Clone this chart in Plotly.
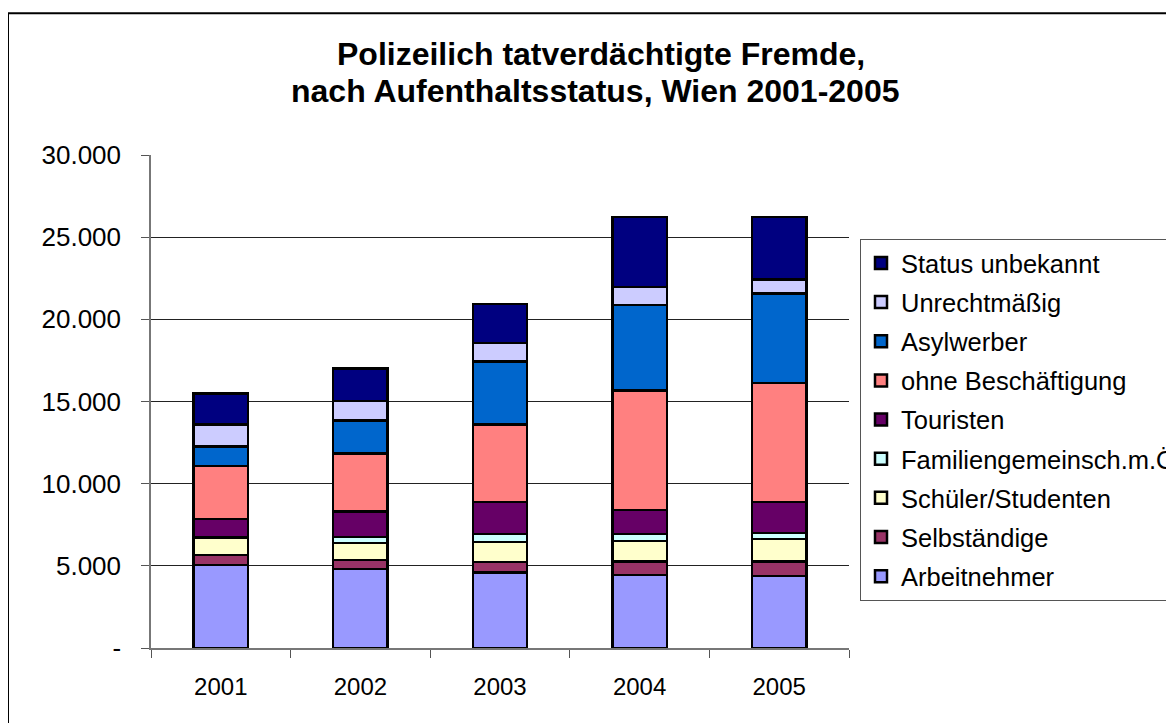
import plotly.graph_objects as go

years = ["2001", "2002", "2003", "2004", "2005"]

arbeitnehmer = [5060, 4800, 4590, 4450, 4390]
selbstaendige = [610, 565, 650, 810, 870]
schueler = [1025, 1015, 1215, 1240, 1360]
familien = [50, 365, 470, 445, 365]
touristen = [1090, 1555, 1945, 1460, 1900]
ohne_beschaeftigung = [3240, 3550, 4740, 7250, 7250]
asylwerber = [1175, 1980, 3830, 5225, 5430]
unrechtmaessig = [1360, 1215, 1130, 1095, 850]
status_unbekannt = [1880, 1970, 2350, 4250, 3800]

series_names = ["Arbeitnehmer", "Selbständige", "Schüler/Studenten", "Familiengemeinsch.m.Ö.",
                "Touristen", "ohne Beschäftigung", "Asylwerber", "Unrechtmäßig", "Status unbekannt"]
series_values = [arbeitnehmer, selbstaendige, schueler, familien, touristen,
                 ohne_beschaeftigung, asylwerber, unrechtmaessig, status_unbekannt]
series_colors = ["#9999FF", "#993366", "#FFFFCC", "#CCFFFF", "#660066",
                 "#FF8080", "#0066CC", "#CCCCFF", "#000080"]

y_tick_vals = [0, 5000, 10000, 15000, 20000, 25000, 30000]
y_tick_text = ["-", "5.000", "10.000", "15.000", "20.000", "25.000", "30.000"]

title_lines = ["Polizeilich tatverdächtigte Fremde,", "nach Aufenthaltsstatus, Wien 2001-2005"]

FONT = "Liberation Sans, Arial, sans-serif"
TITLE_FONT = "Liberation Sans Narrow, Arial Narrow, Liberation Sans"

n = len(series_names)
fig = go.Figure()
for i, (name, vals, col) in enumerate(zip(series_names, series_values, series_colors)):
    fig.add_trace(go.Bar(
        x=years, y=vals, name=name, legendgroup=name, legendrank=100 + (n - i),
        marker=dict(color=col, line=dict(color="black", width=2.5)),
        width=0.39,
    ))

# page body has an 8px margin: work in reference pixels, shifted by OFF
OFF = 8
W, H = 1174 - OFF, 723 - OFF
PL, PR, PT, PB = 151, 849, 154.5, 648.3   # plot area in reference pixels
L, T = PL - OFF, PT - OFF
R = W - (PR - OFF)
B = H - (PB - OFF)
pw = PR - PL
ph = PB - PT

def px_to_paper_x(px):
    return (px - PL) / pw

def px_to_paper_y(py):
    return (PB - py) / ph

fig.update_layout(
    width=W, height=H,
    barmode="stack",
    plot_bgcolor="white", paper_bgcolor="white",
    margin=dict(l=L, r=R, t=T, b=B, autoexpand=False),
    font=dict(family=FONT, color="black"),
    showlegend=True,
    legend=dict(
        x=px_to_paper_x(860), y=px_to_paper_y(238.5), xanchor="left", yanchor="top",
        traceorder="grouped", tracegroupgap=3,
        font=dict(size=25.5, family=FONT, color="black"),
        bgcolor="white", bordercolor="#555555", borderwidth=1,
        itemclick=False,
    ),
    xaxis=dict(
        type="category", tickson="boundaries",
        showline=True, linecolor="#777777", linewidth=1.5,
        ticks="outside", ticklen=8, tickcolor="#555555",
        showgrid=False, range=[-0.5, 4.5],
        tickfont=dict(size=24, family=FONT, color="black"),
        ticklabelstandoff=16,
    ),
    yaxis=dict(
        range=[0, 30000], tickmode="array", tickvals=y_tick_vals, ticktext=y_tick_text,
        showline=True, linecolor="#777777", linewidth=1.5,
        ticks="outside", ticklen=8, tickcolor="#555555",
        showgrid=True, gridcolor="#222222", gridwidth=1,
        tickfont=dict(size=26, family=FONT, color="black"),
        ticklabelstandoff=15, zeroline=False,
    ),
    shapes=[
        dict(type="line", xref="paper", yref="paper",
             x0=px_to_paper_x(8), x1=px_to_paper_x(8),
             y0=px_to_paper_y(740), y1=px_to_paper_y(12.5),
             line=dict(color="black", width=2)),
        dict(type="line", xref="paper", yref="paper",
             x0=px_to_paper_x(8), x1=px_to_paper_x(1190),
             y0=px_to_paper_y(12.5), y1=px_to_paper_y(12.5),
             line=dict(color="black", width=2)),
    ],
    annotations=[
        dict(text="<b>" + title_lines[0] + "</b>", xref="paper", yref="paper",
             x=px_to_paper_x(601), y=px_to_paper_y(53), xanchor="center", yanchor="middle",
             showarrow=False, font=dict(size=32, family=TITLE_FONT, color="black")),
        dict(text="<b>" + title_lines[1] + "</b>", xref="paper", yref="paper",
             x=px_to_paper_x(595), y=px_to_paper_y(90.5), xanchor="center", yanchor="middle",
             showarrow=False, font=dict(size=32, family=TITLE_FONT, color="black")),
    ],
)

fig.write_html("out.html")
